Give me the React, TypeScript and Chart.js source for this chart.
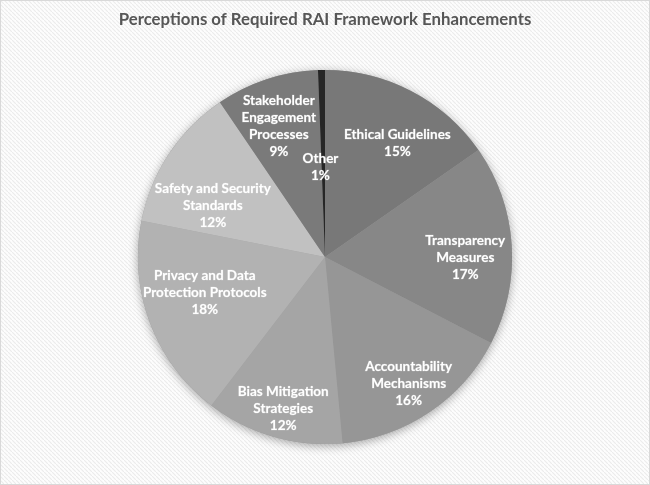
import React, { useEffect, useRef } from "react";
import { Chart, registerables } from "chart.js";

Chart.register(...registerables);

const TITLE = "Perceptions of Required RAI Framework Enhancements";

const categories: string[][] = [
  ["Ethical Guidelines"],
  ["Transparency", "Measures"],
  ["Accountability", "Mechanisms"],
  ["Bias Mitigation", "Strategies"],
  ["Privacy and Data", "Protection Protocols"],
  ["Safety and Security", "Standards"],
  ["Stakeholder", "Engagement", "Processes"],
  ["Other"],
];

const shares: number[] = [15.3, 17.3, 15.9, 11.9, 17.7, 12.4, 8.9, 0.6];

const sliceColors: string[] = [
  "#787878",
  "#878787",
  "#969696",
  "#a5a5a5",
  "#b2b2b2",
  "#c1c1c1",
  "#7a7a7a",
  "#262626",
];

// label placement (fraction of radius, angular tweak in degrees)
const labelRadius = [0.72, 0.75, 0.81, 0.84, 0.67, 0.66, 0.74, 0.48];
const labelTweak = [5, 4, 0.5, -0.6, 4.3, -8.8, -1.3, -1.8];

const LABEL_FONT = "bold 13.5px Lato, 'Open Sans', sans-serif";
const LINE_H = 17;

const bgPlugin = {
  id: "bgPlugin",
  beforeDraw(chart: any) {
    const { ctx, width, height } = chart;
    const pc = document.createElement("canvas");
    pc.width = 4;
    pc.height = 4;
    const p = pc.getContext("2d")!;
    p.fillStyle = "#fdfdfd";
    p.fillRect(0, 0, 4, 4);
    p.strokeStyle = "#ececec";
    p.lineWidth = 1.2;
    p.beginPath();
    p.moveTo(-1, -1);
    p.lineTo(5, 5);
    p.stroke();
    ctx.save();
    ctx.fillStyle = ctx.createPattern(pc, "repeat");
    ctx.fillRect(0, 0, width, height);
    ctx.strokeStyle = "#d9d9d9";
    ctx.lineWidth = 1;
    ctx.strokeRect(0.5, 0.5, width - 1, height - 1);
    ctx.restore();
  },
  beforeDatasetsDraw(chart: any) {
    const meta = chart.getDatasetMeta(0);
    const arc = meta.data[0];
    if (!arc) return;
    const { x, y, outerRadius } = arc.getProps(["x", "y", "outerRadius"], true);
    const ctx = chart.ctx;
    ctx.save();
    ctx.shadowColor = "rgba(0,0,0,0.35)";
    ctx.shadowBlur = 10;
    ctx.shadowOffsetY = 2;
    ctx.fillStyle = "#999";
    ctx.beginPath();
    ctx.arc(x, y, outerRadius, 0, Math.PI * 2);
    ctx.fill();
    ctx.restore();
  },
};

const labelPlugin = {
  id: "labelPlugin",
  afterDatasetsDraw(chart: any) {
    const ctx = chart.ctx;
    const meta = chart.getDatasetMeta(0);
    const data: number[] = chart.data.datasets[0].data;
    const total = data.reduce((a, b) => a + b, 0);
    ctx.save();
    ctx.font = LABEL_FONT;
    ctx.fillStyle = "#ffffff";
    ctx.strokeStyle = "rgba(255,255,255,0.35)";
    ctx.lineWidth = 0.6;
    ctx.textAlign = "center";
    ctx.textBaseline = "middle";
    meta.data.forEach((arc: any, i: number) => {
      const { x, y, startAngle, endAngle, outerRadius } = arc.getProps(
        ["x", "y", "startAngle", "endAngle", "outerRadius"],
        true
      );
      const mid = (startAngle + endAngle) / 2 + (labelTweak[i] * Math.PI) / 180;
      const r = outerRadius * labelRadius[i];
      const cx = x + Math.cos(mid) * r;
      const cy = y + Math.sin(mid) * r;
      const lines = [...categories[i], Math.round((data[i] / total) * 100) + "%"];
      const top = cy - ((lines.length - 1) * LINE_H) / 2;
      lines.forEach((ln, k) => {
        ctx.strokeText(ln, cx, top + k * LINE_H);
        ctx.fillText(ln, cx, top + k * LINE_H);
      });
    });
    ctx.restore();
  },
};

export default function App() {
  const ref = useRef<HTMLCanvasElement>(null);
  useEffect(() => {
    document.body.style.margin = "0";
    const chart = new Chart(ref.current!, {
      type: "pie",
      data: {
        labels: categories.map((c) => c.join(" ")),
        datasets: [
          {
            data: shares,
            backgroundColor: sliceColors,
            borderWidth: 0,
          },
        ],
      },
      options: {
        animation: false,
        responsive: false,
        layout: { padding: { top: 0, bottom: 41, left: 0, right: 0 } },
        plugins: {
          legend: { display: false },
          tooltip: { enabled: false },
          title: {
            display: true,
            text: TITLE,
            color: "#565656",
            font: { family: "Lato, 'Open Sans', sans-serif", size: 16.8, weight: "bold", lineHeight: 1.2 },
            padding: { top: 10, bottom: 39.8 },
          },
        },
      },
      plugins: [bgPlugin, labelPlugin],
    });
    return () => chart.destroy();
  }, []);
  return (
    <div style={{ position: "fixed", left: 0, top: 0, width: 650, height: 485 }}>
      <canvas ref={ref} width={650} height={485} />
    </div>
  );
}
